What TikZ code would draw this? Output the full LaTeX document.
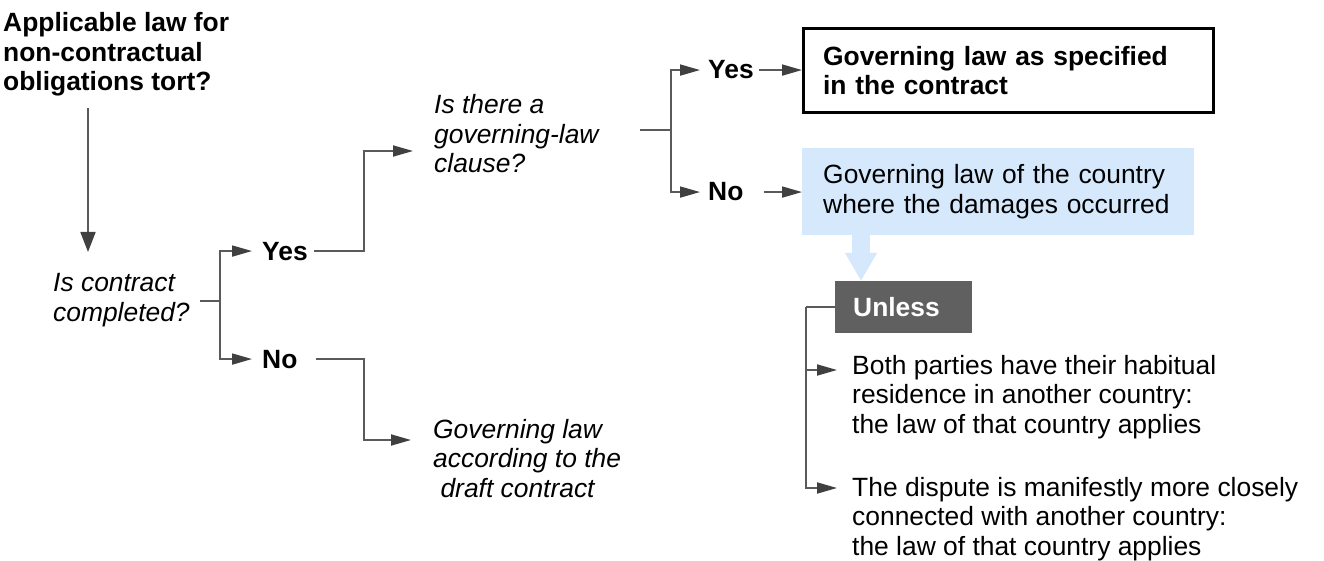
\documentclass[tikz,border=0pt]{standalone}
\usepackage{fontspec}
\setmainfont{Liberation Sans}
\usetikzlibrary{arrows.meta,positioning,calc}

\definecolor{linegray}{RGB}{90,90,90}
\definecolor{tipgray}{RGB}{64,64,64}
\definecolor{paleblue}{RGB}{214,232,252}
\definecolor{darkbox}{RGB}{96,96,96}

\newcommand{\bodyfont}{\fontsize{26.4}{29.5}\selectfont}

% base anchor of a multi-line node sits on its last line
\tikzset{
  txt/.style={inner sep=0pt, anchor=base west, align=left, font=\bodyfont},
  ques/.style={txt, font=\bodyfont\itshape},
  ans/.style={txt, font=\bodyfont\bfseries},
  link/.style={draw=linegray, line width=1.8pt},
  arr/.style={link, -{Triangle[length=20pt, width=11pt, color=tipgray]}},
}

\begin{document}
\begin{tikzpicture}[x=1pt, y=-1pt]
  \useasboundingbox (0,0) rectangle (1324,561);

  % questions and answers
  \node[ans]  (title)    at (3,91)    {Applicable law for\\non-contractual\\obligations tort?};
  \node[ques] (contract) at (53,321)  {Is contract\\completed?};
  \node[ans]  (yes1)     at (262,260) {Yes};
  \node[ans]  (no1)      at (262,368) {No};
  \node[ques] (clause)   at (434,173) {Is there a\\governing-law\\clause?};
  \node[ques] (draft)    at (433,497) {Governing law\\according to the\\\ draft contract};
  \node[ans]  (yes2)     at (708,79)  {Yes};
  \node[ans]  (no2)      at (708,201) {No};

  % outcomes
  \node[ans, anchor=north west, draw, line width=3.2pt, text width=371pt,
        inner xsep=19.5pt, minimum height=83.8pt] (specified) at (802,27)
        {Governing law as specified\\in the contract};
  \node[txt, anchor=north west, fill=paleblue, text width=350pt,
        inner xsep=21pt, minimum height=87pt] (damages) at (802,148)
        {Governing law of the country\\where the damages occurred};
  \node[ans, anchor=north west, fill=darkbox, text=white, text width=101pt,
        inner xsep=18pt, minimum height=52pt] (unless) at (835,281) {Unless};
  \node[txt] (both)    at (852,433) {Both parties have their habitual\\residence in another country:\\the law of that country applies};
  \node[txt] (dispute) at (852,555) {The dispute is manifestly more closely\\connected with another country:\\the law of that country applies};

  % junctions and arrow ends
  \coordinate (start)     at (88,108);
  \coordinate (askend)    at (88,252);
  \coordinate (split1)    at (220,301);
  \coordinate (elbow)     at (364,0);
  \coordinate (toclause)  at (413,151);
  \coordinate (todraft)   at (411,440);
  \coordinate (stub)      at (640,130);
  \coordinate (split2)    at (671,130);
  \coordinate (pour)      at (861,0);
  \coordinate (split3)    at (806,0);
  \coordinate (toboth)    at (837,370);
  \coordinate (todispute) at (837,488);

  % connectors
  \draw[link, -{Triangle[length=20pt, width=15pt, color=tipgray]}] (start) -- (askend);
  \draw[link] ($(contract.east |- split1)+(10,0)$) -- (split1);
  \draw[arr] (split1) |- ($(yes1.west)+(-10,0)$);
  \draw[arr] (split1) |- ($(no1.west)+(-10,0)$);
  \draw[arr] ($(yes1.east)+(6,0)$) -| (elbow |- toclause) -- (toclause);
  \draw[arr] ($(no1.east)+(18,0)$) -| (elbow |- todraft) -- (todraft);
  \draw[link] (stub) -- (split2);
  \draw[arr] (split2) |- ($(yes2.west)+(-8,0)$);
  \draw[arr] (split2) |- ($(no2.west)+(-8,0)$);
  \draw[arr] ($(yes2.east)+(5,0)$) -- (specified.west |- yes2.east);
  \draw[arr] ($(no2.east)+(20,0)$) -- (damages.west |- no2.east);
  \draw[paleblue, line width=18pt, -{Triangle[length=28pt, width=30pt]}]
    (damages.south -| pour) -- (unless.north -| pour);
  \draw[link] (unless.west) -- (unless.west -| split3);
  \draw[arr] (unless.west -| split3) |- (toboth);
  \draw[arr] (unless.west -| split3) |- (todispute);
\end{tikzpicture}
\end{document}
